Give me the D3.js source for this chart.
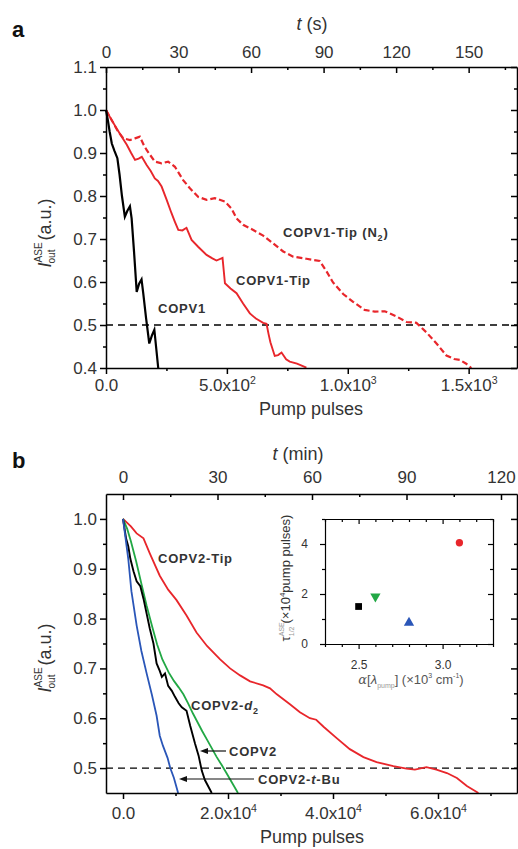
<!DOCTYPE html>
<html><head><meta charset="utf-8">
<script src="https://cdn.jsdelivr.net/npm/d3@7"></script>
<style>
body{margin:0;background:#fff;}
svg{display:block;}
</style></head><body>
<svg id="c" width="518" height="849"></svg>
<script>
// ---------------- data ----------------
// panel a : [pump pulses, I_out^ASE]
const copv1 = [[0,1.0],[8,0.975],[15,0.95],[24,0.922],[35,0.905],[47,0.888],[56,0.85],[66,0.80],[78,0.752],[88,0.765],[99,0.776],[106,0.748],[116,0.67],[127,0.577],[137,0.596],[147,0.606],[154,0.574],[166,0.515],[179,0.457],[190,0.476],[200,0.489],[207,0.45],[216,0.40]];
const copv1Tip = [[0,1.0],[20,0.98],[44,0.957],[65,0.938],[86,0.919],[104,0.9],[120,0.884],[135,0.887],[148,0.891],[168,0.872],[185,0.858],[202,0.841],[215,0.835],[230,0.822],[251,0.791],[271,0.76],[285,0.74],[299,0.721],[316,0.72],[333,0.726],[354,0.698],[381,0.682],[416,0.663],[440,0.655],[457,0.65],[482,0.656],[492,0.597],[515,0.585],[540,0.574],[567,0.55],[595,0.527],[620,0.515],[650,0.505],[664,0.503],[672,0.48],[680,0.46],[698,0.428],[712,0.43],[726,0.436],[745,0.42],[760,0.415],[790,0.41],[829,0.401]];
const copv1TipN2 = [[0,1.0],[25,0.975],[50,0.95],[72,0.934],[99,0.93],[120,0.934],[140,0.938],[155,0.92],[168,0.907],[202,0.88],[230,0.876],[257,0.88],[285,0.868],[319,0.837],[347,0.818],[381,0.798],[416,0.791],[450,0.795],[492,0.787],[519,0.771],[540,0.748],[567,0.733],[609,0.721],[650,0.708],[691,0.69],[733,0.671],[774,0.659],[829,0.654],[884,0.649],[912,0.625],[939,0.599],[981,0.572],[1022,0.554],[1070,0.535],[1112,0.531],[1153,0.532],[1201,0.52],[1243,0.507],[1284,0.505],[1325,0.483],[1367,0.457],[1408,0.429],[1440,0.421],[1463,0.419],[1490,0.41],[1511,0.4]];
// panel b : [pump pulses, I_out^ASE]
const copv2Tip = [[0,1.0],[1500,0.985],[2600,0.971],[3900,0.961],[5100,0.931],[7000,0.886],[8600,0.858],[10200,0.837],[12100,0.806],[14000,0.772],[16000,0.745],[18500,0.718],[20400,0.700],[22300,0.686],[24200,0.674],[26700,0.666],[28000,0.660],[29300,0.648],[31800,0.628],[33700,0.612],[35600,0.600],[36800,0.597],[38200,0.583],[40700,0.560],[43200,0.538],[45800,0.522],[48300,0.512],[51500,0.504],[54000,0.499],[55600,0.497],[57800,0.502],[59700,0.497],[61700,0.490],[63600,0.480],[65500,0.464],[67700,0.450]];
const copv2d2 = [[0,1.0],[800,0.98],[1500,0.955],[2500,0.915],[3500,0.87],[4500,0.826],[5500,0.786],[6500,0.748],[7500,0.718],[8700,0.692],[9700,0.675],[10600,0.662],[11500,0.648],[12400,0.63],[13300,0.61],[14200,0.592],[15100,0.574],[16000,0.557],[16900,0.54],[17800,0.523],[18800,0.506],[19700,0.49],[20800,0.47],[21900,0.45]];
const copv2 = [[0,1.0],[600,0.96],[1000,0.945],[1400,0.92],[2000,0.895],[2600,0.875],[3300,0.865],[3900,0.84],[4500,0.81],[5100,0.78],[5800,0.75],[6400,0.71],[7000,0.695],[7400,0.683],[8000,0.69],[8600,0.665],[9300,0.655],[9900,0.643],[10600,0.63],[11200,0.622],[12100,0.615],[12800,0.585],[13700,0.55],[14400,0.525],[15000,0.495],[15600,0.476],[16300,0.462],[16900,0.45]];
const copv2tBu = [[0,1.0],[500,0.96],[1000,0.92],[1600,0.855],[2600,0.786],[3500,0.735],[4500,0.69],[5500,0.647],[6400,0.605],[7000,0.565],[7600,0.545],[8500,0.52],[9000,0.50],[9700,0.48],[10500,0.45]];
// inset
const insetAlpha = [2.5, 2.6, 2.8, 3.1];
const insetTau = [1.5, 1.9, 0.85, 4.05];
const insetShape = ["square", "down", "up", "circle"];
// ticks
const aBottomTicks = [0, 500, 1000, 1500];
const aBottomLabels = ["0.0", "5.0x10^2", "1.0x10^3", "1.5x10^3"];
const aBottomMinor = [250, 750, 1250];
const aTopTicks = [0, 30, 60, 90, 120, 150];
const aTopMinor = [15, 45, 75, 105, 135, 165];
const aLeftTicks = [0.4, 0.5, 0.6, 0.7, 0.8, 0.9, 1.0, 1.1];
const aLeftMinor = [0.45, 0.55, 0.65, 0.75, 0.85, 0.95, 1.05];
const bBottomTicks = [0, 20000, 40000, 60000];
const bBottomLabels = ["0.0", "2.0x10^4", "4.0x10^4", "6.0x10^4"];
const bBottomMinor = [10000, 30000, 50000, 70000];
const bTopTicks = [0, 30, 60, 90, 120];
const bTopMinor = [15, 45, 75, 105];
const bLeftTicks = [0.5, 0.6, 0.7, 0.8, 0.9, 1.0];
const bLeftMinor = [0.55, 0.65, 0.75, 0.85, 0.95];
const inXTicks = [2.5, 3.0];
const inXMinor = [2.3, 2.4, 2.6, 2.7, 2.8, 2.9, 3.1, 3.2, 3.3];
const inYTicks = [0, 2, 4];
const inYMinor = [1, 3, 5];

// ---------------- drawing ----------------
const FONT = '"Liberation Sans", Arial, Helvetica, sans-serif';
const TXT = '#333';
const RED = '#e8262b', GREEN = '#22a845', BLUE = '#2a56b8';
const svg = d3.select('#c').attr('font-family', FONT);

function rich(textSel, str, fs) {
  textSel.text(null);
  const parts = String(str).split('^');
  textSel.append('tspan').text(parts[0]);
  if (parts.length > 1) textSel.append('tspan').attr('dy', -fs * 0.42).attr('font-size', fs * 0.62).text(parts[1]);
}

function axisSet(g, o) {
  const mk = {top: d3.axisTop, bottom: d3.axisBottom, left: d3.axisLeft, right: d3.axisRight}[o.orient];
  const sign = o.inward ? -1 : 1;
  const horiz = o.orient === 'top' || o.orient === 'bottom';
  const tr = horiz ? `translate(0,${o.pos})` : `translate(${o.pos},0)`;
  const lw = o.lw || 1.5;
  if (o.minors) {
    const m = g.append('g').attr('transform', tr)
      .call(mk(o.scale).tickValues(o.minors).tickSize(sign * o.minorLen).tickSizeOuter(0).tickFormat(''));
    m.select('.domain').remove();
    m.selectAll('line').attr('stroke', '#000').attr('stroke-width', lw);
  }
  const ax = g.append('g').attr('transform', tr)
    .call(mk(o.scale).tickValues(o.majors).tickSize(sign * o.majorLen).tickSizeOuter(0)
      .tickPadding(o.pad || 4).tickFormat((d, i) => o.labels ? o.labels[i] : ''));
  ax.attr('font-family', FONT).attr('font-size', o.fs || 17);
  ax.select('.domain').attr('stroke', '#000').attr('stroke-width', lw);
  ax.selectAll('line').attr('stroke', '#000').attr('stroke-width', lw);
  if (o.labels) {
    ax.selectAll('.tick text').attr('fill', o.color || TXT).attr('letter-spacing', o.ls || 0)
      .each(function (d, i) { rich(d3.select(this), o.labels[i], o.fs || 17); });
  } else {
    ax.selectAll('.tick text').remove();
  }
  return ax;
}

function curveLabel(x, y, parts) {
  const t = svg.append('text').attr('x', x).attr('y', y).attr('font-size', 13).attr('font-weight', 'bold')
    .attr('fill', TXT).attr('letter-spacing', 0.8);
  parts.forEach(p => {
    const s = t.append('tspan').text(p.t);
    if (p.it) s.attr('font-style', 'italic');
    if (p.sub) s.attr('font-size', 9).attr('dy', 4);
    if (p.back) s.attr('dy', -4);
  });
}

function arrow(x1, x2, y) {
  svg.append('line').attr('x1', x1 + 6).attr('x2', x2).attr('y1', y).attr('y2', y).attr('stroke', '#111').attr('stroke-width', 1.2);
  svg.append('path').attr('d', `M${x1},${y}L${x1 + 8},${y - 3}L${x1 + 8},${y + 3}Z`).attr('fill', '#111');
}

// ===== Panel a =====
const xA = d3.scaleLinear([0, 1700], [106, 517]);
const tA = d3.scaleLinear([0, 170], [106, 517]);
const yA = d3.scaleLinear([0.4, 1.1], [368, 67]);
const gA = svg.append('g');

const lineA = d3.line().x(d => xA(d[0])).y(d => yA(d[1]));
gA.append('line').attr('x1', xA.range()[0]).attr('x2', xA.range()[1]).attr('y1', yA(0.5)).attr('y2', yA(0.5))
  .attr('stroke', '#000').attr('stroke-width', 1.3).attr('stroke-dasharray', '7,5');
gA.append('path').datum(copv1TipN2).attr('d', lineA).attr('fill', 'none').attr('stroke', RED).attr('stroke-width', 2.2).attr('stroke-dasharray', '6,3');
gA.append('path').datum(copv1Tip).attr('d', lineA).attr('fill', 'none').attr('stroke', RED).attr('stroke-width', 1.9);
gA.append('path').datum(copv1).attr('d', lineA).attr('fill', 'none').attr('stroke', '#000').attr('stroke-width', 2.2);

axisSet(gA, {orient: 'left', pos: 106, scale: yA, majors: aLeftTicks, minors: aLeftMinor, labels: aLeftTicks.map(d => d.toFixed(1)), majorLen: 6, minorLen: 3, pad: 3});
axisSet(gA, {orient: 'right', pos: 517, scale: yA, majors: aLeftTicks, minors: aLeftMinor, inward: true, majorLen: 6, minorLen: 3});
axisSet(gA, {orient: 'bottom', pos: 368, scale: xA, majors: aBottomTicks, minors: aBottomMinor, labels: aBottomLabels, majorLen: 6, minorLen: 3, pad: 5});
axisSet(gA, {orient: 'top', pos: 67, scale: tA, majors: aTopTicks, minors: aTopMinor, labels: aTopTicks.map(String), inward: true, majorLen: 6, minorLen: 3, pad: 9});

svg.append('text').attr('x', 12).attr('y', 37).attr('font-size', 22).attr('font-weight', 'bold').attr('fill', '#111').text('a');
{
  const t = svg.append('text').attr('x', 312).attr('y', 30).attr('text-anchor', 'middle').attr('font-size', 18).attr('fill', TXT);
  t.append('tspan').attr('font-style', 'italic').text('t');
  t.append('tspan').text(' (s)');
}
svg.append('text').attr('x', 311).attr('y', 415).attr('text-anchor', 'middle').attr('font-size', 18).attr('fill', TXT).text('Pump pulses');

function yLabel(cx, cy) {
  const t = svg.append('text').attr('transform', `translate(${cx},${cy}) rotate(-90)`).attr('text-anchor', 'middle')
    .attr('font-size', 18).attr('fill', TXT);
  t.append('tspan').attr('font-style', 'italic').text('I');
  t.append('tspan').attr('font-size', 10).attr('dy', -9).text('ASE');
  t.append('tspan').attr('font-size', 10).attr('dx', -21).attr('dy', 13).text('out');
  t.append('tspan').attr('dx', 4).attr('dy', -4).text(' (a.u.)');
}
yLabel(51, 233);

curveLabel(158, 313, [{t: 'COPV1'}]);
curveLabel(236, 285, [{t: 'COPV1-Tip'}]);
curveLabel(283, 237, [{t: 'COPV1-Tip (N'}, {t: '2', sub: true}, {t: ')', back: true}]);

// ===== Panel b =====
const xB = d3.scaleLinear([-3240, 75050], [106, 517]);
const tB = d3.scaleLinear([-5.4, 125.08], [106, 517]);
const yB = d3.scaleLinear([0.45, 1.05], [793, 494]);
const gB = svg.append('g');
const lineB = d3.line().x(d => xB(d[0])).y(d => yB(d[1]));

gB.append('line').attr('x1', xB.range()[0]).attr('x2', xB.range()[1]).attr('y1', yB(0.5)).attr('y2', yB(0.5))
  .attr('stroke', '#000').attr('stroke-width', 1.3).attr('stroke-dasharray', '7,5');
gB.append('path').datum(copv2Tip).attr('d', lineB).attr('fill', 'none').attr('stroke', RED).attr('stroke-width', 1.8);
gB.append('path').datum(copv2d2).attr('d', lineB).attr('fill', 'none').attr('stroke', GREEN).attr('stroke-width', 1.8);
gB.append('path').datum(copv2).attr('d', lineB).attr('fill', 'none').attr('stroke', '#000').attr('stroke-width', 1.9);
gB.append('path').datum(copv2tBu).attr('d', lineB).attr('fill', 'none').attr('stroke', BLUE).attr('stroke-width', 1.8);

axisSet(gB, {orient: 'left', pos: 106, scale: yB, majors: bLeftTicks, minors: bLeftMinor, labels: bLeftTicks.map(d => d.toFixed(1)), majorLen: 6, minorLen: 3, pad: 3});
axisSet(gB, {orient: 'right', pos: 517, scale: yB, majors: bLeftTicks, minors: bLeftMinor, inward: true, majorLen: 6, minorLen: 3});
axisSet(gB, {orient: 'bottom', pos: 793, scale: xB, majors: bBottomTicks, minors: bBottomMinor, labels: bBottomLabels, majorLen: 6, minorLen: 3, pad: 8});
axisSet(gB, {orient: 'top', pos: 494, scale: tB, majors: bTopTicks, minors: bTopMinor, labels: bTopTicks.map(String), inward: true, majorLen: 6, minorLen: 3, pad: 11});

svg.append('text').attr('x', 12).attr('y', 468).attr('font-size', 22).attr('font-weight', 'bold').attr('fill', '#111').text('b');
{
  const t = svg.append('text').attr('x', 298).attr('y', 460).attr('text-anchor', 'middle').attr('font-size', 18).attr('fill', TXT);
  t.append('tspan').attr('font-style', 'italic').text('t');
  t.append('tspan').text(' (min)');
}
svg.append('text').attr('x', 312).attr('y', 843).attr('text-anchor', 'middle').attr('font-size', 18).attr('fill', TXT).text('Pump pulses');
yLabel(51, 658);

curveLabel(158, 563, [{t: 'COPV2-Tip'}]);
curveLabel(191, 710, [{t: 'COPV2-'}, {t: 'd', it: true}, {t: '2', sub: true}]);
curveLabel(229, 756, [{t: 'COPV2'}]);
curveLabel(258, 784, [{t: 'COPV2-'}, {t: 't', it: true}, {t: '-Bu'}]);
arrow(200, 226, 751);
arrow(179, 254, 779);

// ===== Inset =====
const xI = d3.scaleLinear([2.3, 3.3], [325, 493]);
const yI = d3.scaleLinear([0, 5], [644, 519]);
const gI = svg.append('g');
gI.append('rect').attr('x', 325).attr('y', 519).attr('width', 168).attr('height', 125).attr('fill', '#fff');
axisSet(gI, {orient: 'left', pos: 325, scale: yI, majors: inYTicks, minors: inYMinor, labels: inYTicks.map(String), majorLen: 5, minorLen: 3, pad: 12, fs: 12, lw: 1.2});
axisSet(gI, {orient: 'right', pos: 493, scale: yI, majors: inYTicks, minors: inYMinor, inward: true, majorLen: 5, minorLen: 3, lw: 1.2});
axisSet(gI, {orient: 'bottom', pos: 644, scale: xI, majors: inXTicks, minors: inXMinor, labels: ['2.5', '3.0'], majorLen: 5, minorLen: 3, pad: 11, fs: 12, lw: 1.2});
axisSet(gI, {orient: 'top', pos: 519, scale: xI, majors: inXTicks, minors: inXMinor, inward: true, majorLen: 5, minorLen: 3, lw: 1.2});

const symMap = {square: d3.symbolSquare, down: d3.symbolTriangle, up: d3.symbolTriangle, circle: d3.symbolCircle};
const symColor = ['#000', GREEN, BLUE, RED];
insetAlpha.forEach((a, i) => {
  const sh = insetShape[i];
  gI.append('path')
    .attr('d', d3.symbol().type(symMap[sh]).size(sh === 'circle' ? 42 : 46)())
    .attr('transform', `translate(${xI(a)},${yI(insetTau[i])})${sh === 'down' ? ' rotate(180)' : ''}`)
    .attr('fill', symColor[i]);
});
{
  const t = svg.append('text').attr('transform', 'translate(290,578) rotate(-90)').attr('text-anchor', 'middle')
    .attr('font-size', 13).attr('fill', TXT);
  t.append('tspan').text('τ');
  t.append('tspan').attr('font-size', 7).attr('dy', -6).attr('fill', '#999').text('ASE');
  t.append('tspan').attr('font-size', 7).attr('dx', -14).attr('dy', 10).attr('fill', '#999').text('1/2');
  t.append('tspan').attr('dx', 3).attr('dy', -4).text('(×10');
  t.append('tspan').attr('font-size', 8).attr('dy', -5).text('4');
  t.append('tspan').attr('dy', 5).text('pump pulses)');
}
{
  const t = svg.append('text').attr('x', 411).attr('y', 684).attr('text-anchor', 'middle')
    .attr('font-size', 13).attr('fill', '#555');
  t.append('tspan').attr('font-style', 'italic').attr('font-family', '"DejaVu Serif", serif').text('α');
  t.append('tspan').text('[');
  t.append('tspan').attr('font-style', 'italic').text('λ');
  t.append('tspan').attr('font-size', 7).attr('dy', 4).attr('fill', '#999').text('pump');
  t.append('tspan').attr('dy', -4).text('] (×10');
  t.append('tspan').attr('font-size', 7).attr('dy', -6).text('3');
  t.append('tspan').attr('dy', 6).text(' cm');
  t.append('tspan').attr('font-size', 7).attr('dy', -6).text('-1');
  t.append('tspan').attr('dy', 6).text(')');
}
</script>
</body></html>
